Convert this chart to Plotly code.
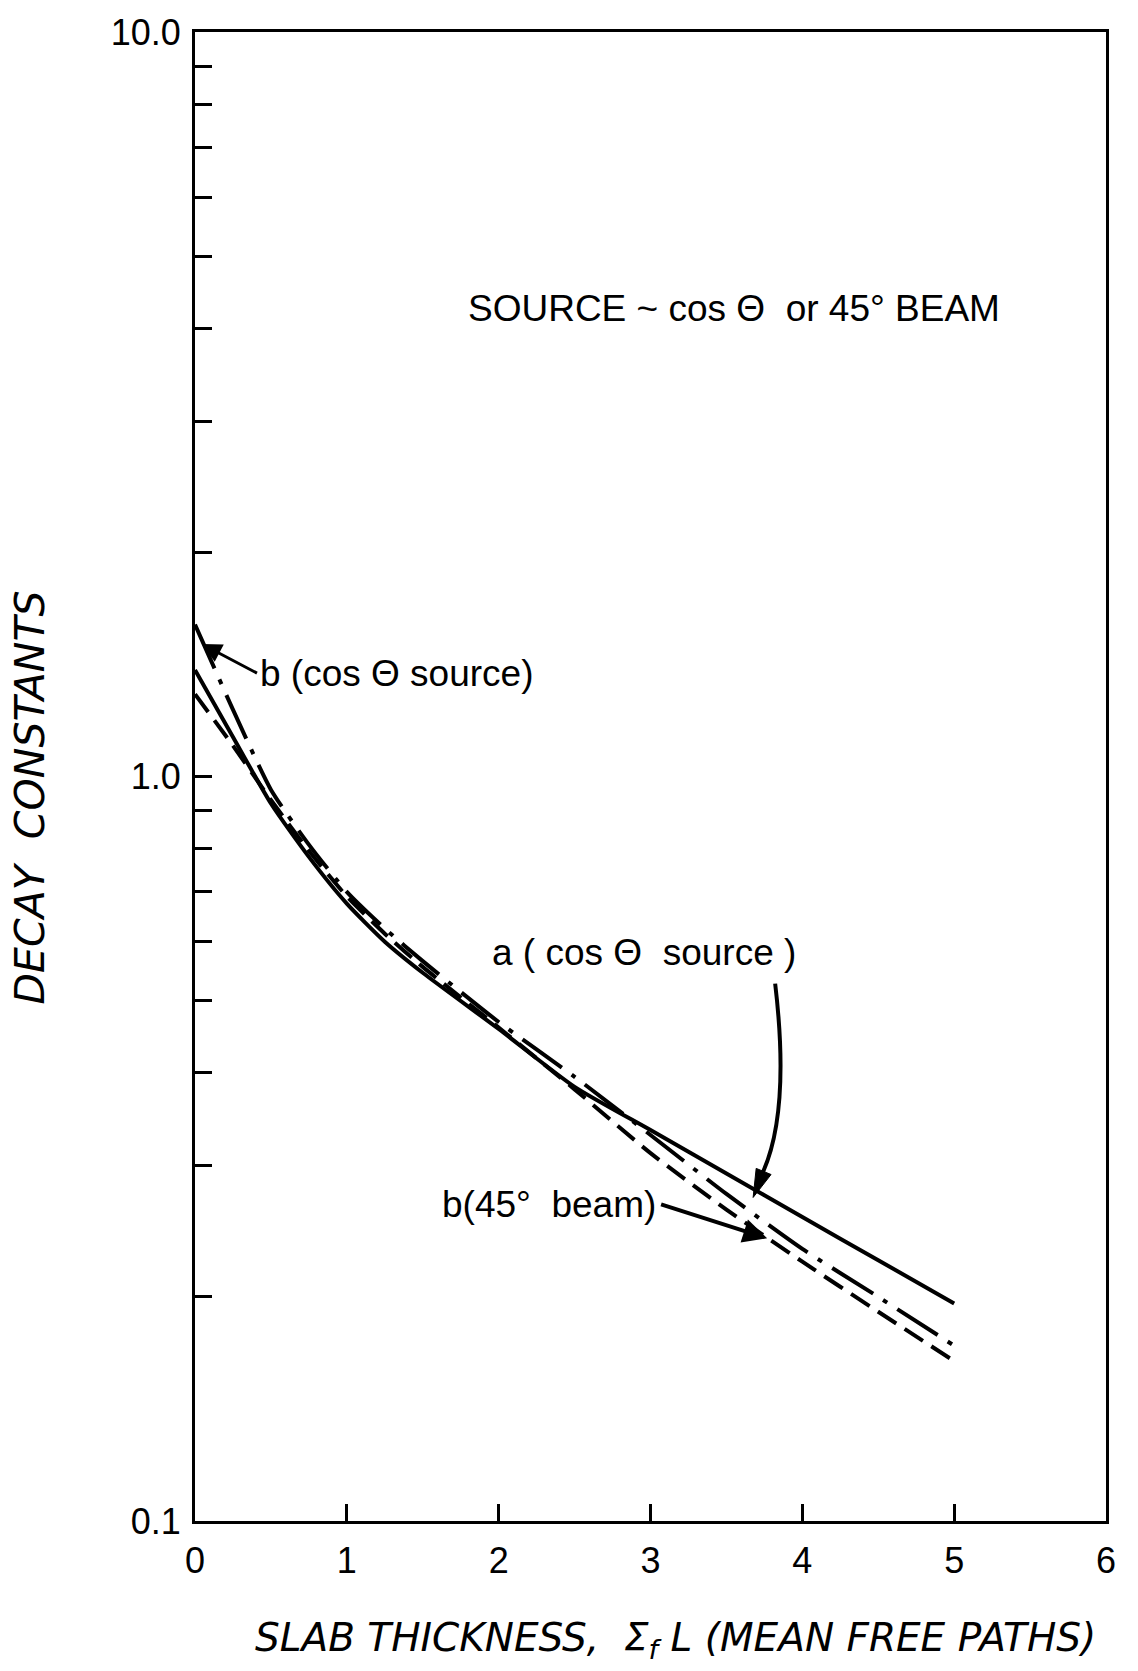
import math
import plotly.graph_objects as go

# ---- data ----
thickness = [0, 0.25, 0.5, 0.75, 1.0, 1.25, 1.5, 2.0, 2.5, 3.0, 3.5, 4.0, 4.5, 5.0]
a_cos = [1.39, 1.13, 0.92, 0.78, 0.675, 0.60, 0.545, 0.458, 0.383, 0.335, 0.293, 0.256, 0.224, 0.196]
b_cos = [1.60, 1.23, 0.96, 0.81, 0.70, 0.625, 0.565, 0.468, 0.395, 0.330, 0.275, 0.232, 0.200, 0.172]
b_45 = [1.29, 1.10, 0.93, 0.795, 0.69, 0.615, 0.555, 0.46, 0.38, 0.312, 0.262, 0.223, 0.191, 0.164]

y_tickvals = [0.1, 1, 10]
y_ticktext = ["0.1", "1.0", "10.0"]
y_minorvals = [0.2, 0.3, 0.4, 0.5, 0.6, 0.7, 0.8, 0.9, 2, 3, 4, 5, 6, 7, 8, 9]
x_tickvals = [0, 1, 2, 3, 4, 5, 6]

YMIN, YMAX = 0.1, 10.0
XMIN, XMAX = 0, 6


def yp(v):
    """data value -> paper fraction on the log y axis"""
    return (math.log10(v) - math.log10(YMIN)) / (math.log10(YMAX) - math.log10(YMIN))


FONT = "Liberation Sans"
TITLE_FONT = "DejaVu Sans"
ink = "black"

fig = go.Figure()
fig.add_trace(go.Scatter(x=thickness, y=a_cos, mode="lines", name="a (cos θ source)",
                         line=dict(color=ink, width=4, shape="spline", smoothing=0.6)))
fig.add_trace(go.Scatter(x=thickness, y=b_cos, mode="lines", name="b (cos θ source)",
                         line=dict(color=ink, width=4, shape="spline", smoothing=0.6,
                                   dash="48px,12px,5px,12px")))
fig.add_trace(go.Scatter(x=thickness, y=b_45, mode="lines", name="b (45° beam)",
                         line=dict(color=ink, width=4, shape="spline", smoothing=0.6,
                                   dash="22px,10px")))

ann_font = dict(family=FONT, size=37, color=ink)

annotations = [
    dict(x=3.55, y=yp(4.25), xref="x", yref="paper", text="SOURCE ~ cos Θ  or 45° BEAM",
         showarrow=False, font=ann_font, xanchor="center", yanchor="middle"),
    # b (cos theta source) with leader arrow
    dict(x=0.046, y=yp(1.506), xref="x", yref="paper", text="b (cos Θ source)",
         showarrow=True, ax=55, ay=29, xanchor="left", yanchor="middle",
         arrowhead=2, arrowsize=1.3, arrowwidth=3, arrowcolor=ink, standoff=0,
         font=ann_font, borderpad=2),
    # a (cos theta source)
    dict(x=1.94, y=yp(0.58), xref="x", yref="paper", text="a ( cos Θ  source )",
         showarrow=False, font=ann_font, xanchor="left", yanchor="middle"),
    # b (45 deg beam) with leader arrow
    dict(x=3.768, y=yp(0.2397), xref="x", yref="paper", text="b(45°  beam)",
         showarrow=True, ax=-106, ay=-34, xanchor="right", yanchor="middle",
         arrowhead=2, arrowsize=1.2, arrowwidth=4, arrowcolor=ink, standoff=0,
         font=ann_font, borderpad=4),
    # axis titles
    dict(x=0.527, y=-0.080, xref="paper", yref="paper",
         text="<i>SLAB THICKNESS,  Σ<sub>f</sub> L (MEAN FREE PATHS)</i>",
         showarrow=False, xanchor="center", yanchor="middle",
         font=dict(family=TITLE_FONT, size=39, color=ink)),
    dict(x=-0.181, y=0.486, xref="paper", yref="paper",
         text="<i>DECAY  CONSTANTS</i>", textangle=-90,
         showarrow=False, xanchor="center", yanchor="middle",
         font=dict(family=TITLE_FONT, size=41, color=ink)),
]

shapes = [
    # curved leader for "a (cos theta source)"
    dict(type="path", xref="x", yref="paper",
         path=f"M 3.821,{yp(0.527)} Q 3.92,{yp(0.356)} 3.742,{yp(0.2946)}",
         line=dict(color=ink, width=4)),
    # its arrowhead
    dict(type="path", xref="x", yref="paper",
         path=f"M 3.676,{yp(0.272)} L 3.794,{yp(0.292)} L 3.696,{yp(0.2976)} Z",
         fillcolor=ink, line=dict(color=ink, width=1)),
]

fig.update_layout(
    width=1138, height=1671,
    margin=dict(l=195, r=32, t=30, b=150),
    paper_bgcolor="white", plot_bgcolor="white",
    showlegend=False,
    annotations=annotations,
    shapes=shapes,
    font=dict(family=FONT, color=ink),
)

fig.update_xaxes(
    range=[XMIN, XMAX], tickmode="array", tickvals=x_tickvals,
    ticks="inside", ticklen=17, tickwidth=3, tickcolor=ink,
    showline=True, linewidth=3, linecolor=ink, mirror=True,
    showgrid=False, zeroline=False,
    tickfont=dict(family=FONT, size=36, color=ink),
    ticklabelstandoff=6,
)
fig.update_yaxes(
    type="log", range=[math.log10(YMIN), math.log10(YMAX)],
    tickmode="array", tickvals=y_tickvals, ticktext=y_ticktext,
    ticks="inside", ticklen=17, tickwidth=3, tickcolor=ink,
    minor=dict(tickmode="array", tickvals=y_minorvals, ticks="inside",
               ticklen=17, tickwidth=3, tickcolor=ink, showgrid=False),
    showline=True, linewidth=3, linecolor=ink, mirror=True,
    showgrid=False, zeroline=False,
    tickfont=dict(family=FONT, size=36, color=ink),
    ticklabelstandoff=4,
)

fig.write_html("out.html")
